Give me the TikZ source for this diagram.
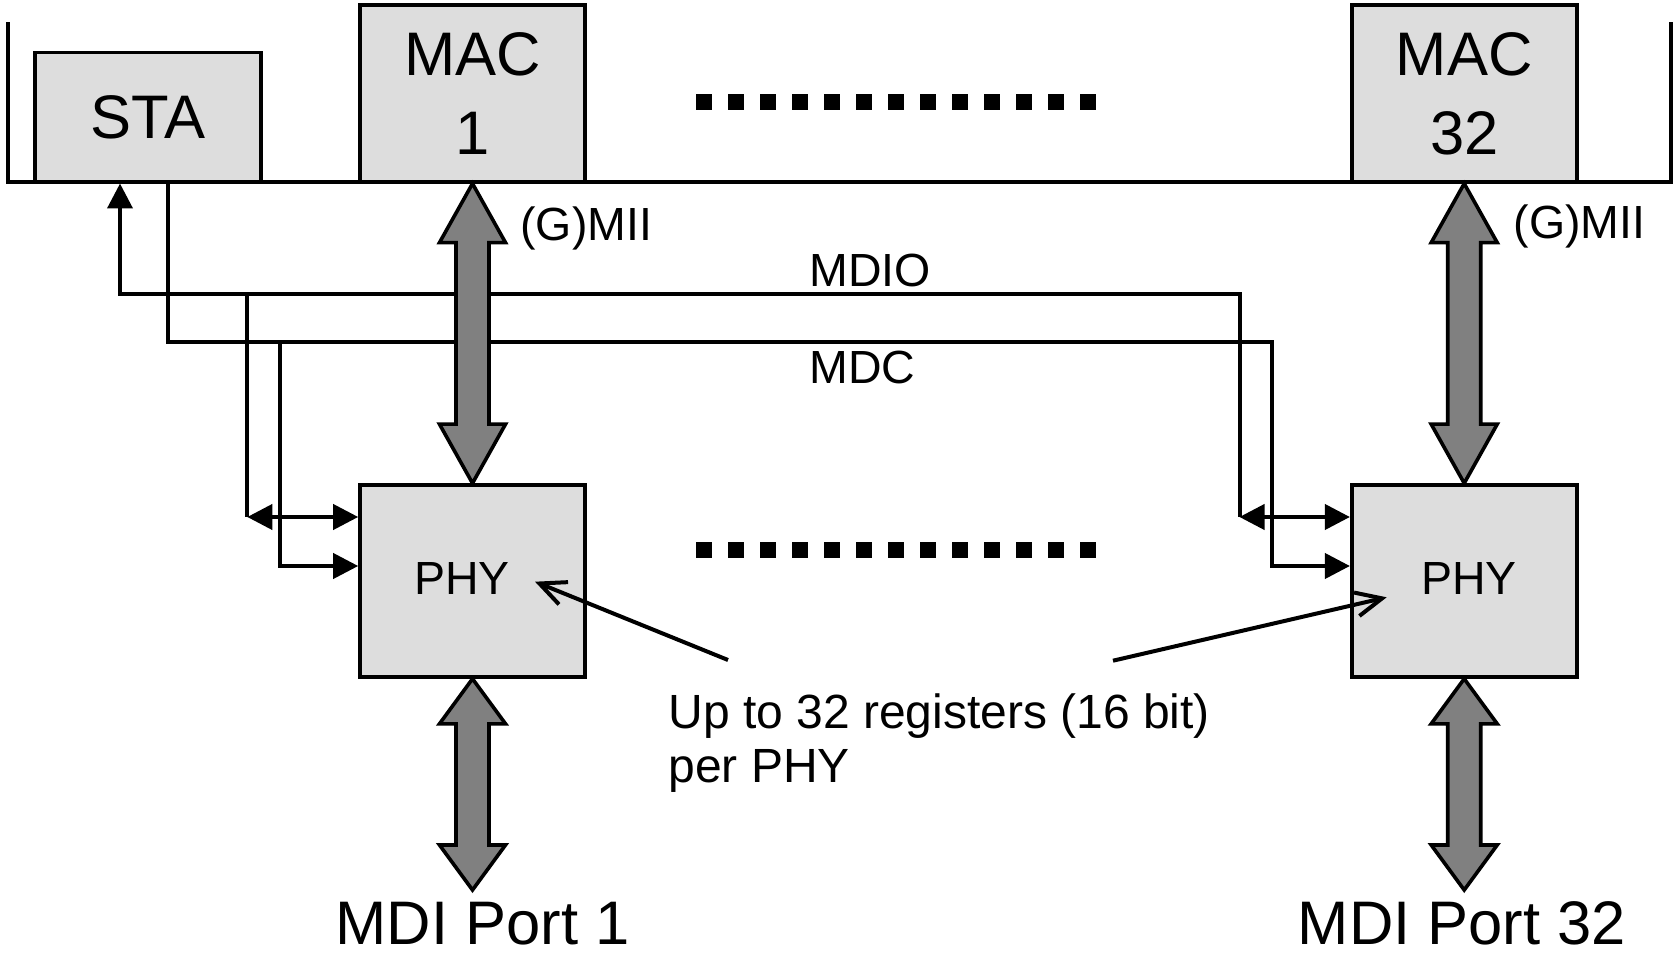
\documentclass[tikz,border=0pt]{standalone}
\usepackage{fontspec}
\setmainfont{Liberation Sans}
\usetikzlibrary{arrows.meta,calc}
\definecolor{boxfill}{RGB}{221,221,221}
\definecolor{busfill}{RGB}{128,128,128}
\newcommand\bigfont{\fontsize{30.75pt}{39.5pt}\selectfont}
\newcommand\smallfont{\fontsize{23.25pt}{25pt}\selectfont}
\newcommand\notefont{\fontsize{24pt}{25pt}\selectfont}
% fat two-headed bus arrow from #1 (upper end) to #2 (lower end), head length #3
\newcommand\busarrow[3]{%
  \draw[bus] (#1) -- ++(33,#3) -- ++(-16.5,0) -- ($(#2)+(16.5,-#3)$) -- ++(16.5,0)
    -- (#2) -- ++(-33,-#3) -- ++(16.5,0) -- ($(#1)+(-16.5,#3)$) -- ++(-16.5,0) -- cycle;}
\begin{document}
\begin{tikzpicture}[x=0.5pt,y=-0.5pt,
  box/.style={draw, fill=boxfill, line width=1.8pt, inner sep=0pt},
  wire/.style={line width=2pt},
  wirearrow/.style={-{Triangle[length=12.5pt,width=12.5pt]}},
  twoway/.style={{Triangle[length=12.5pt,width=12.5pt]}-{Triangle[length=12.5pt,width=12.5pt]}},
  bus/.style={draw, fill=busfill, line width=1.8pt, line join=miter},
  note/.style={line width=2pt, -{Straight Barb[length=13pt,width=12pt]}},
  lbl/.style={inner sep=0pt, font=\smallfont},
  biglbl/.style={inner sep=0pt, font=\bigfont}]
\useasboundingbox (0,0) rectangle (1680,956);

% system bus bracket
\coordinate (busTL) at (7.7,22.5);
\coordinate (busBL) at (7.7,181.7);
\coordinate (busBR) at (1670.6,181.7);
\coordinate (busTR) at (1670.6,22.5);
\draw[wire] (busTL) -- (busBL) -- (busBR) -- (busTR);

% blocks
\node[box, minimum width=113pt, minimum height=64.5pt, font=\bigfont] (sta) at (148,117.2) {\raisebox{-1pt}{STA}};
\node[box, minimum width=112.5pt, minimum height=88.4pt, font=\bigfont, align=center] (mac1) at (472.5,93.4) {MAC\\1};
\node[box, minimum width=112.5pt, minimum height=88.4pt, font=\bigfont, align=center] (mac32) at (1464.2,93.4) {MAC\\32};
\node[box, minimum width=112.5pt, minimum height=96pt] (phy1) at (472.5,581) {};
\node[box, minimum width=112.5pt, minimum height=96pt] (phy32) at (1464.2,581) {};
\node[lbl, anchor=base west] (phy1lbl) at (413.6,594.6) {PHY};
\node[lbl, anchor=base west] (phy32lbl) at (1420.7,594.6) {PHY};

% MDIO management line
\coordinate (mdioA) at (120,294);
\coordinate (mdioB) at (1239.5,294);
\coordinate (mdio1) at (247.3,294);
\coordinate (mdio1c) at (247.3,517);
\coordinate (mdio32c) at (1239.5,517);
\draw[wire, wirearrow] (mdio32c) -- (mdioB) -- (mdioA) -- (mdioA |- sta.south);
\draw[wire] (mdio1) -- (mdio1c);
\draw[wire, twoway] (mdio1c) -- (mdio1c -| phy1.west);
\draw[wire, twoway] (mdio32c) -- (mdio32c -| phy32.west);

% MDC clock line
\coordinate (mdcA) at (168.3,341.7);
\coordinate (mdcB) at (1271.7,341.7);
\coordinate (mdc1) at (280,341.7);
\coordinate (mdc1c) at (280,566);
\coordinate (mdc32c) at (1271.7,566);
\draw[wire, wirearrow] (mdcA |- sta.south) -- (mdcA) -- (mdcB) -- (mdc32c) -- (mdc32c -| phy32.west);
\draw[wire, wirearrow] (mdc1) -- (mdc1c) -- (mdc1c -| phy1.west);

% ellipsis between port 1 and port 32
\draw[line width=8pt, dash pattern=on 8pt off 8pt] (696,102) -- (1096,102);
\draw[line width=8pt, dash pattern=on 8pt off 8pt] (696,550) -- (1096,550);

% data paths
\coordinate (mdi1) at (472.5,890);
\coordinate (mdi32) at (1464.2,890);
\busarrow{mac1.south}{phy1.north}{59}
\busarrow{mac32.south}{phy32.north}{59}
\busarrow{phy1.south}{mdi1}{45}
\busarrow{phy32.south}{mdi32}{45}

% labels
\node[lbl, anchor=base west] (gmii1) at (520,241) {(G)MII};
\node[lbl, anchor=base west] (gmii32) at (1513.4,238.3) {(G)MII};
\node[lbl, anchor=base west] (mdiolbl) at (809,287) {MDIO};
\node[lbl, anchor=base west] (mdclbl) at (809,383.6) {MDC};
\node[biglbl, anchor=base] (port1) at (482.7,944) {MDI Port 1};
\node[biglbl, anchor=base] (port32) at (1462,944) {MDI Port 32};
\node[lbl, font=\notefont, anchor=base west] (regs) at (668,728) {Up to 32 registers (16 bit)};
\node[lbl, font=\notefont, anchor=base west] (perphy) at (668,782) {per PHY};

% register annotation pointers
\coordinate (regtail1) at (728,660);
\coordinate (regtip1) at (535,581.7);
\coordinate (regtail32) at (1113,660.7);
\coordinate (regtip32) at (1386.7,597.3);
\draw[note] (regtail1) -- (regtip1);
\draw[note] (regtail32) -- (regtip32);
\end{tikzpicture}
\end{document}
